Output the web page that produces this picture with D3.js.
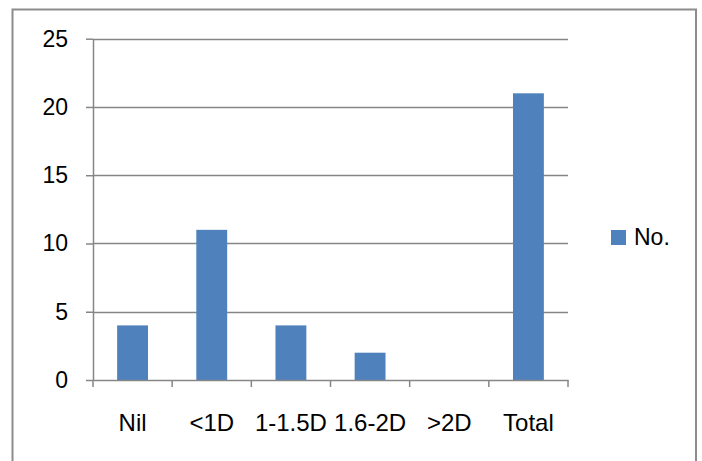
<!DOCTYPE html>
<html>
<head>
<meta charset="utf-8">
<script src="https://cdn.jsdelivr.net/npm/d3@7"></script>
<style>
  html, body { margin: 0; padding: 0; background: #fff; }
  svg { display: block; }
  text { font-family: "Liberation Sans", Arial, sans-serif; fill: #000; }
</style>
</head>
<body>
<svg id="chart" width="702" height="461"></svg>
<script>
const categories = ["Nil", "<1D", "1-1.5D", "1.6-2D", ">2D", "Total"];
const values = [4, 11, 4, 2, 0, 21];
const yTicks = [0, 5, 10, 15, 20, 25];
const seriesName = "No.";

const svg = d3.select("#chart");
const plot = { left: 93, right: 568, top: 38.7, bottom: 380 };

// outer frame
svg.append("rect")
  .attr("x", 12.5).attr("y", 9.5)
  .attr("width", 683.5).attr("height", 470)
  .attr("fill", "none").attr("stroke", "#8c8c8c").attr("stroke-width", 2);

const x = d3.scaleBand().domain(categories).range([plot.left, plot.right]).padding(0);
const y = d3.scaleLinear().domain([0, 25]).range([plot.bottom, plot.top]);

// gridlines
svg.append("g").selectAll("line").data(yTicks.filter(d => d > 0)).join("line")
  .attr("x1", plot.left).attr("x2", plot.right)
  .attr("y1", d => Math.round(y(d)) + 0.5).attr("y2", d => Math.round(y(d)) + 0.5)
  .attr("stroke", "#868686").attr("stroke-width", 1.5);

// bars
const barW = x.bandwidth() * 0.39;
svg.append("g").selectAll("rect").data(values).join("rect")
  .attr("x", (d, i) => x(categories[i]) + (x.bandwidth() - barW) / 2)
  .attr("width", barW)
  .attr("y", d => y(d))
  .attr("height", d => y(0) - y(d))
  .attr("fill", "#4f81bd");

// y axis
const yAxis = d3.axisLeft(y).tickValues(yTicks).tickSize(7).tickPadding(18).tickSizeOuter(0);
const gy = svg.append("g").attr("transform", `translate(${plot.left},0)`).call(yAxis);
gy.select(".domain").attr("stroke", "#868686").attr("stroke-width", 1.5);
gy.selectAll(".tick line").attr("stroke", "#868686").attr("stroke-width", 1.5);
gy.selectAll(".tick text").attr("font-size", 23).attr("font-family", "Liberation Sans, Arial, sans-serif").attr("fill", "#000");

// x axis
const xAxis = d3.axisBottom(x).tickSize(0).tickPadding(0).tickSizeOuter(0);
const gx = svg.append("g").attr("transform", `translate(0,${plot.bottom})`).call(xAxis);
gx.select(".domain").attr("stroke", "#868686").attr("stroke-width", 1.5);
gx.selectAll(".tick text").attr("font-size", 24).attr("font-family", "Liberation Sans, Arial, sans-serif")
  .attr("fill", "#000").attr("dy", null).attr("y", 51);
// category separator tick marks
const sepPositions = categories.map(c => x(c)).concat([plot.right]);
gx.append("g").selectAll("line").data(sepPositions).join("line")
  .attr("x1", d => d).attr("x2", d => d).attr("y1", 0).attr("y2", 7)
  .attr("stroke", "#868686").attr("stroke-width", 1.5);

// legend
const lg = svg.append("g").attr("transform", "translate(611,230)");
lg.append("rect").attr("width", 15).attr("height", 15).attr("fill", "#4f81bd");
lg.append("text").attr("x", 23).attr("y", 15).attr("font-size", 23).text(seriesName);
</script>
</body>
</html>
